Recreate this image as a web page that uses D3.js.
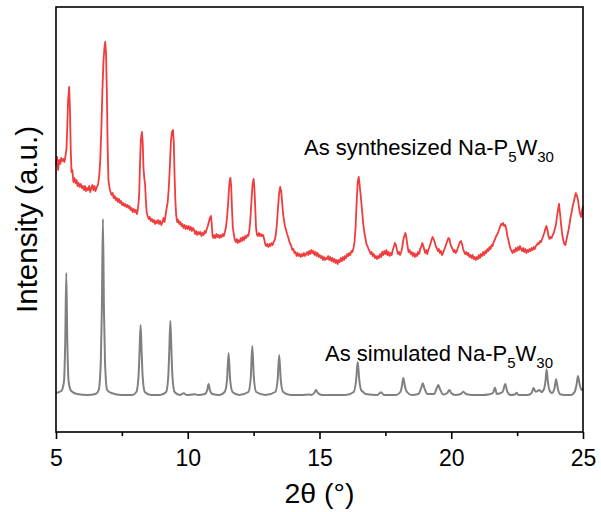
<!DOCTYPE html>
<html><head><meta charset="utf-8">
<script src="https://cdn.jsdelivr.net/npm/d3@7"></script>
<style>body{margin:0;background:#fff}svg{display:block}</style>
</head><body><svg id="c" width="601" height="512"></svg>
<script>
const xTicks=[5,10,15,20,25];
const xMinorTicks=[7.5,12.5,17.5,22.5];
const xLabel="2θ (°)";
const yLabel="Intensity (a.u.)";
const seriesNames=["As synthesized","As simulated"];
// As synthesized (experimental) pattern: [2θ, intensity]
const synthesized=[[5.00,267],[5.04,275],[5.08,262],[5.12,272],[5.16,268],[5.20,274],[5.24,271],[5.28,273],[5.32,270],[5.36,276],[5.40,284],[5.43,307],[5.46,332],[5.50,345],[5.53,322],[5.56,282],[5.59,260],[5.62,262],[5.66,250],[5.70,254],[5.74,249],[5.78,252],[5.82,246],[5.86,249],[5.90,245],[5.94,248],[5.98,244],[6.02,246],[6.06,242],[6.10,246],[6.14,241],[6.18,244],[6.22,242],[6.26,246],[6.30,240],[6.34,244],[6.38,247],[6.42,242],[6.46,246],[6.50,241],[6.54,244],[6.60,248],[6.64,256],[6.68,272],[6.72,302],[6.76,340],[6.80,370],[6.84,385],[6.87,390],[6.90,378],[6.93,340],[6.96,285],[6.99,252],[7.03,244],[7.07,240],[7.11,237],[7.15,239],[7.19,234],[7.23,236],[7.27,232],[7.31,234],[7.35,230],[7.39,233],[7.43,229],[7.47,231],[7.51,227],[7.55,229],[7.59,226],[7.63,228],[7.67,225],[7.71,227],[7.75,224],[7.79,226],[7.83,222],[7.87,224],[7.91,220],[7.95,223],[7.99,220],[8.03,222],[8.07,218],[8.10,222],[8.13,228],[8.16,240],[8.19,270],[8.22,292],[8.26,300],[8.29,290],[8.32,264],[8.35,254],[8.38,248],[8.41,232],[8.44,220],[8.48,216],[8.52,213],[8.56,215],[8.60,211],[8.64,213],[8.68,210],[8.72,212],[8.76,208],[8.80,211],[8.84,209],[8.88,212],[8.92,208],[8.96,211],[9.00,207],[9.04,210],[9.08,214],[9.12,210],[9.16,217],[9.20,224],[9.24,230],[9.28,244],[9.32,265],[9.36,290],[9.40,300],[9.44,302],[9.47,290],[9.50,256],[9.53,232],[9.56,217],[9.60,210],[9.64,212],[9.68,208],[9.72,210],[9.76,206],[9.80,208],[9.84,204],[9.88,207],[9.92,203],[9.96,206],[10.00,203],[10.04,206],[10.08,202],[10.12,205],[10.16,201],[10.20,204],[10.24,202],[10.28,198],[10.32,201],[10.36,197],[10.40,200],[10.44,198],[10.48,200],[10.52,196],[10.56,199],[10.60,197],[10.64,201],[10.68,199],[10.72,203],[10.76,206],[10.80,210],[10.84,214],[10.88,216],[10.91,208],[10.94,196],[10.97,194],[11.01,197],[11.05,194],[11.09,198],[11.13,195],[11.17,197],[11.21,194],[11.25,197],[11.29,195],[11.33,198],[11.37,196],[11.41,200],[11.45,205],[11.49,214],[11.53,228],[11.57,245],[11.60,253],[11.62,254],[11.65,245],[11.68,222],[11.71,205],[11.74,199],[11.78,193],[11.82,190],[11.86,193],[11.90,189],[11.94,192],[11.98,190],[12.02,194],[12.06,191],[12.10,195],[12.14,192],[12.18,196],[12.22,194],[12.26,197],[12.30,196],[12.34,202],[12.38,214],[12.42,232],[12.46,248],[12.50,253],[12.53,244],[12.56,225],[12.59,205],[12.62,198],[12.66,196],[12.70,199],[12.74,196],[12.78,198],[12.82,196],[12.86,197],[12.90,193],[12.94,188],[12.98,186],[13.02,188],[13.06,185],[13.10,188],[13.14,186],[13.18,189],[13.22,187],[13.26,190],[13.30,192],[13.34,197],[13.38,207],[13.42,222],[13.46,237],[13.51,245],[13.55,240],[13.59,227],[13.62,218],[13.65,212],[13.69,206],[13.73,202],[13.77,198],[13.81,195],[13.85,191],[13.89,188],[13.93,186],[13.97,182],[14.01,183],[14.05,179],[14.09,180],[14.13,176],[14.17,179],[14.21,176],[14.25,178],[14.29,175],[14.33,178],[14.37,176],[14.41,179],[14.45,176],[14.49,178],[14.53,180],[14.57,177],[14.61,181],[14.65,178],[14.69,182],[14.73,179],[14.77,181],[14.81,177],[14.85,180],[14.89,176],[14.93,179],[14.97,175],[15.01,177],[15.05,174],[15.09,176],[15.13,172],[15.17,175],[15.21,172],[15.25,174],[15.29,173],[15.33,176],[15.37,172],[15.41,175],[15.45,171],[15.49,174],[15.53,170],[15.57,173],[15.61,169],[15.65,172],[15.69,168],[15.73,172],[15.77,170],[15.81,174],[15.85,171],[15.89,175],[15.93,172],[15.97,176],[16.01,174],[16.05,178],[16.09,176],[16.13,179],[16.17,177],[16.21,181],[16.25,180],[16.29,184],[16.33,190],[16.37,205],[16.41,230],[16.45,250],[16.49,255],[16.52,248],[16.55,240],[16.58,232],[16.62,220],[16.66,208],[16.70,200],[16.74,194],[16.78,188],[16.82,186],[16.86,183],[16.90,181],[16.94,178],[16.98,180],[17.02,176],[17.06,178],[17.10,174],[17.14,176],[17.18,173],[17.22,176],[17.26,174],[17.30,178],[17.34,175],[17.38,180],[17.42,177],[17.46,181],[17.50,178],[17.54,182],[17.58,177],[17.62,180],[17.66,176],[17.70,179],[17.74,177],[17.78,182],[17.82,185],[17.86,189],[17.90,187],[17.94,182],[17.98,178],[18.02,180],[18.06,177],[18.10,180],[18.14,185],[18.18,192],[18.22,196],[18.26,199],[18.30,194],[18.34,186],[18.38,180],[18.42,182],[18.46,178],[18.50,180],[18.54,176],[18.58,179],[18.62,175],[18.66,178],[18.70,176],[18.74,180],[18.78,178],[18.82,183],[18.86,185],[18.90,189],[18.93,187],[18.97,183],[19.01,179],[19.05,182],[19.09,178],[19.13,182],[19.17,185],[19.21,188],[19.25,192],[19.29,195],[19.33,193],[19.37,190],[19.41,186],[19.45,184],[19.49,181],[19.53,183],[19.57,179],[19.61,181],[19.65,177],[19.69,179],[19.73,182],[19.77,185],[19.81,188],[19.85,191],[19.89,194],[19.93,193],[19.97,188],[20.01,185],[20.05,183],[20.09,180],[20.13,182],[20.17,179],[20.21,181],[20.25,184],[20.29,187],[20.33,190],[20.37,191],[20.41,188],[20.45,183],[20.49,180],[20.53,178],[20.57,180],[20.61,177],[20.65,179],[20.69,175],[20.73,177],[20.77,174],[20.81,177],[20.85,173],[20.89,175],[20.93,172],[20.97,175],[21.01,173],[21.05,177],[21.09,174],[21.13,178],[21.17,176],[21.21,180],[21.25,177],[21.29,181],[21.33,179],[21.37,183],[21.41,181],[21.45,185],[21.49,183],[21.53,187],[21.57,186],[21.61,190],[21.65,192],[21.69,195],[21.73,197],[21.77,199],[21.81,202],[21.85,205],[21.89,208],[21.93,207],[21.97,209],[22.01,206],[22.05,207],[22.09,203],[22.13,196],[22.17,192],[22.21,187],[22.25,183],[22.29,181],[22.33,179],[22.37,182],[22.41,180],[22.45,184],[22.49,181],[22.53,185],[22.57,182],[22.61,186],[22.65,183],[22.69,181],[22.73,184],[22.77,180],[22.81,183],[22.85,179],[22.89,182],[22.93,180],[22.97,183],[23.01,181],[23.05,184],[23.09,182],[23.13,185],[23.17,183],[23.21,186],[23.25,187],[23.29,189],[23.33,188],[23.37,191],[23.41,190],[23.45,193],[23.49,196],[23.53,199],[23.57,203],[23.61,206],[23.65,202],[23.69,196],[23.73,193],[23.77,195],[23.81,194],[23.85,197],[23.89,199],[23.93,203],[23.97,207],[24.01,215],[24.05,222],[24.09,228],[24.13,218],[24.17,207],[24.21,198],[24.25,192],[24.29,188],[24.33,187],[24.37,192],[24.41,197],[24.45,202],[24.49,208],[24.53,215],[24.57,220],[24.61,226],[24.65,230],[24.69,235],[24.73,239],[24.77,236],[24.81,232],[24.85,224],[24.89,218],[24.93,215],[24.97,222],[25.00,226]];
// As simulated pattern: [2θ, intensity]
const simulated=[[5.00,39],[5.20,41],[5.30,50],[5.35,90],[5.39,159],[5.43,90],[5.48,50],[5.58,41],[5.80,38],[6.20,37],[6.50,38],[6.62,42],[6.70,70],[6.74,122],[6.78,213],[6.82,122],[6.86,70],[6.94,42],[7.10,39],[7.50,37],[7.90,37],[8.05,40],[8.13,55],[8.17,80],[8.21,107],[8.25,80],[8.29,55],[8.37,40],[8.60,37],[8.95,37],[9.18,40],[9.26,55],[9.30,82],[9.34,111],[9.38,82],[9.42,55],[9.50,40],[9.70,37],[9.85,38.7],[9.95,37],[10.25,37.7],[10.40,37],[10.65,38],[10.74,42],[10.79,48],[10.84,42],[10.93,38],[11.20,37],[11.40,40],[11.49,52],[11.55,79],[11.61,52],[11.70,40],[11.95,37],[12.30,40],[12.39,54],[12.45,86],[12.51,54],[12.60,40],[12.95,37],[13.32,40],[13.41,52],[13.47,77],[13.53,52],[13.62,40],[13.90,37],[14.30,37],[14.62,37.5],[14.70,37],[14.80,39],[14.87,42],[14.94,39],[15.10,37],[16.00,37],[16.30,40],[16.39,52],[16.45,70],[16.51,52],[16.58,42],[16.65,40.3],[16.75,38],[17.20,37],[17.33,39.7],[17.45,37],[17.90,37],[18.07,40],[18.13,46],[18.18,54],[18.24,46],[18.32,40],[18.50,37],[18.75,38],[18.86,44],[18.92,48.7],[18.98,44],[19.10,38],[19.35,38],[19.45,44],[19.51,47],[19.57,43],[19.70,37.5],[19.85,39],[19.93,42],[20.00,39],[20.15,37],[20.36,38],[20.46,40.3],[20.56,38],[20.80,37],[21.20,37],[21.40,37.5],[21.58,39],[21.66,44.3],[21.73,38],[21.95,40],[22.05,48],[22.13,40],[22.25,37],[22.42,37.5],[22.48,39.3],[22.55,37],[22.90,37],[23.05,39],[23.12,44],[23.20,40.3],[23.28,41],[23.34,42],[23.42,40],[23.52,43],[23.58,52],[23.62,62.7],[23.66,52],[23.74,41],[23.82,39],[23.92,44],[23.98,52.7],[24.04,44],[24.12,38],[24.30,37],[24.55,37],[24.68,40],[24.76,48],[24.81,56],[24.87,48],[24.95,42],[25.00,43]];
// label anchors in data coordinates [2θ, intensity]
const labelAnchors=[[14.41,277],[15.21,71]];

const svg=d3.select("#c");
const font="'Liberation Sans', Arial, sans-serif";
const x=d3.scaleLinear().domain([5,25]).range([56,583]);
const y=d3.scaleLinear().domain([0,425]).range([432,7]);

svg.append("path").datum(simulated)
  .attr("d",d3.line().x(d=>x(d[0])).y(d=>y(d[1])).curve(d3.curveMonotoneX))
  .attr("fill","none").attr("stroke","#808080").attr("stroke-width",2);
svg.append("path").datum(synthesized)
  .attr("d",d3.line().x(d=>x(d[0])).y(d=>y(d[1])))
  .attr("fill","none").attr("stroke","#f03c3c").attr("stroke-width",1.8).attr("stroke-linejoin","round");

// frame
svg.append("rect").attr("x",x(5)).attr("y",y(425)).attr("width",x(25)-x(5)).attr("height",y(0)-y(425))
  .attr("fill","none").attr("stroke","#000").attr("stroke-width",1.6);

const gx=svg.append("g").attr("transform",`translate(0,${y(0)})`)
  .call(d3.axisBottom(x).tickValues(xTicks).tickSize(7).tickSizeOuter(0).tickPadding(11).tickFormat(d3.format("d")));
gx.select(".domain").remove();
gx.selectAll("line").attr("stroke","#000").attr("stroke-width",1.6);
gx.selectAll("text").attr("font-family",font).attr("font-size",23).attr("fill","#000");
const gm=svg.append("g").attr("transform",`translate(0,${y(0)})`)
  .call(d3.axisBottom(x).tickValues(xMinorTicks).tickSize(4).tickSizeOuter(0).tickFormat(""));
gm.select(".domain").remove();
gm.selectAll("line").attr("stroke","#000").attr("stroke-width",1.6);

svg.append("text").attr("x",(x(5)+x(25))/2).attr("y",503).attr("text-anchor","middle")
  .attr("font-family",font).attr("font-size",28.5).text(xLabel);
svg.append("text").attr("transform",`translate(37,${(y(0)+y(425))/2}) rotate(-90)`).attr("text-anchor","middle")
  .attr("font-family",font).attr("font-size",29.5).text(yLabel);

seriesNames.forEach((n,i)=>{
  const t=svg.append("text").attr("x",x(labelAnchors[i][0])).attr("y",y(labelAnchors[i][1]))
    .attr("font-family",font).attr("font-size",22);
  t.append("tspan").text(n+" Na-P");
  t.append("tspan").attr("font-size",15).attr("dy",7).text("5");
  t.append("tspan").attr("dy",-7).text("W");
  t.append("tspan").attr("font-size",15).attr("dy",7).text("30");
});
</script></body></html>
